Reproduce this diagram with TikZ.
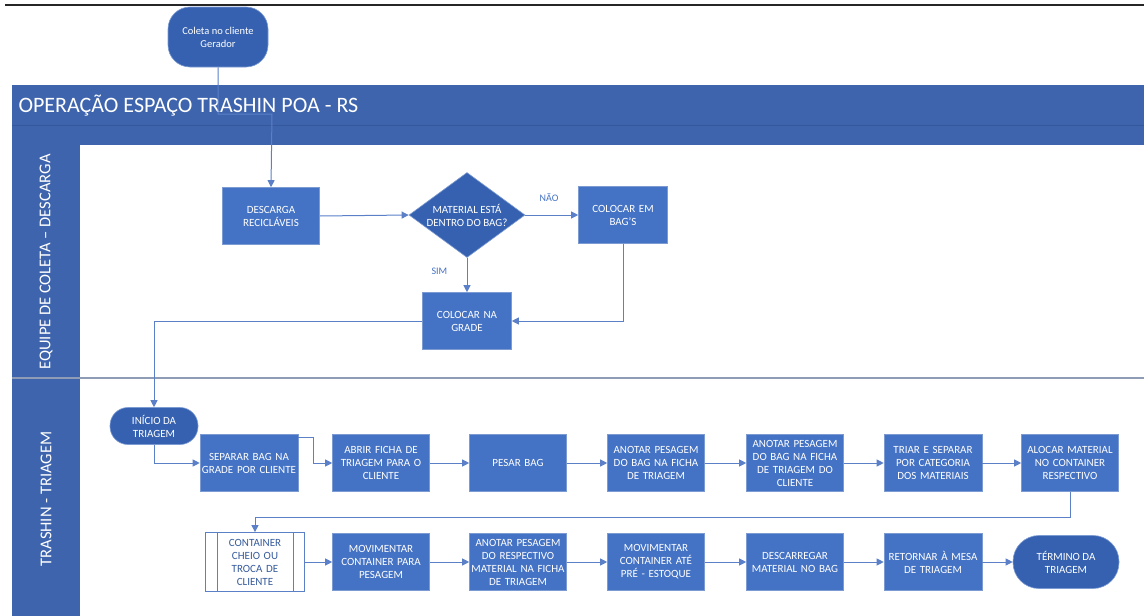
\documentclass[tikz,border=0pt]{standalone}
\usepackage{fontspec}
\setmainfont{Carlito}
\usetikzlibrary{shapes.geometric,arrows.meta}
\definecolor{boxblue}{HTML}{4472C4}
\definecolor{bandblue}{HTML}{3E64AD}
\definecolor{darkblue}{HTML}{3561B0}
\definecolor{edgeblue}{HTML}{7D9BD3}
\definecolor{lineblue}{HTML}{5B80C8}
\definecolor{sepgray}{HTML}{8E9CB5}
\definecolor{bandline}{HTML}{35589C}
\begin{document}
\begin{tikzpicture}[x=1pt,y=-1pt,
  box/.style={rectangle, fill=boxblue, draw=edgeblue, line width=0.6pt, text=white,
    font=\fontsize{11}{13}\selectfont, align=center, minimum width=97pt,
    minimum height=57pt, text width=96pt, inner sep=0pt},
  termnode/.style={rectangle, fill=darkblue, draw=edgeblue, line width=0.6pt, text=white,
    font=\fontsize{11}{13}\selectfont, align=center, inner sep=0pt},
  predef/.style={rectangle, fill=white, draw=lineblue, line width=0.8pt, text=boxblue!80!black,
    font=\fontsize{11}{13}\selectfont, align=center, minimum width=99pt,
    minimum height=59pt, text width=74pt, inner sep=0pt},
  conn/.style={draw=lineblue, line width=1pt, -{Triangle[length=7pt,width=7pt]}},
  lbl/.style={text=boxblue, font=\fontsize{10}{12}\selectfont},
  lanetitle/.style={rotate=90, text=white, font=\fontsize{16.5}{19}\selectfont}]
\useasboundingbox (0,0) rectangle (1144,616);
\fill[white] (0,0) rectangle (1144,616);
% top rule
\draw[line width=2.5pt, black!85] (5,5) -- (1144,5);
% pool header band and lane headers
\fill[bandblue] (12,85) rectangle (1144,145);
\draw[bandline, line width=0.8pt] (12,125) -- (1144,125);
\fill[bandblue] (12,145) rectangle (80,616);
\draw[sepgray, line width=1.2pt] (12,378) -- (1144,378);
\node[anchor=west, text=white, font=\fontsize{22}{26}\selectfont] (title) at (15,106) {OPERAÇÃO ESPAÇO TRASHIN POA - RS};
\node[lanetitle] (lane1) at (46,262) {EQUIPE DE COLETA – DESCARGA};
\node[lanetitle] (lane2) at (46,499) {TRASHIN - TRIAGEM};

% start
\node[termnode, minimum width=100pt, minimum height=60pt, rounded corners=22pt,
  font=\fontsize{10.5}{13}\selectfont] (start) at (218,37) {Coleta no cliente\\Gerador};

% lane 1
\node[box] (desc) at (271,216) {DESCARGA\\RECICLÁVEIS};
\node[diamond, fill=darkblue, draw=edgeblue, line width=0.6pt, minimum width=116pt,
  minimum height=85pt, inner sep=0pt,
  label={[text=white, font=\fontsize{11}{13}\selectfont, align=center]center:MATERIAL ESTÁ\\DENTRO DO BAG?}] (dec) at (467,215) {};
\node[box, minimum width=89pt, text width=88pt] (bags) at (623,215) {COLOCAR EM\\BAG'S};
\node[box, minimum width=89pt, text width=88pt] (grade) at (467,321) {COLOCAR NA\\GRADE};

% lane 2 row 1
\node[termnode, minimum width=88pt, minimum height=37pt, rounded corners=18pt] (ini) at (154,426) {INÍCIO DA\\TRIAGEM};
\node[box, minimum width=98pt] (sep) at (249,463) {SEPARAR BAG NA\\GRADE POR CLIENTE};
\node[box] (abrir) at (381,463) {ABRIR FICHA DE\\TRIAGEM PARA O\\CLIENTE};
\node[box] (pesar) at (518,463) {PESAR BAG};
\node[box] (anot1) at (656,463) {ANOTAR PESAGEM\\DO BAG NA FICHA\\DE TRIAGEM};
\node[box] (anot2) at (795,463) {ANOTAR PESAGEM\\DO BAG NA FICHA\\DE TRIAGEM DO\\CLIENTE};
\node[box, minimum width=98pt] (triar) at (933,463) {TRIAR E SEPARAR\\POR CATEGORIA\\DOS MATERIAIS};
\node[box] (aloc) at (1070,463) {ALOCAR MATERIAL\\NO CONTAINER\\RESPECTIVO};

% lane 2 row 2
\node[predef] (cont) at (255,562) {CONTAINER\\CHEIO OU\\TROCA DE\\CLIENTE};
\draw[lineblue, line width=0.8pt] ([xshift=12pt]cont.north west) -- ([xshift=12pt]cont.south west);
\draw[lineblue, line width=0.8pt] ([xshift=-12pt]cont.north east) -- ([xshift=-12pt]cont.south east);
\node[box] (mov1) at (381,562) {MOVIMENTAR\\CONTAINER PARA\\PESAGEM};
\node[box] (anot3) at (518,562) {ANOTAR PESAGEM\\DO RESPECTIVO\\MATERIAL NA FICHA\\DE TRIAGEM};
\node[box] (mov2) at (656,562) {MOVIMENTAR\\CONTAINER ATÉ\\PRÉ - ESTOQUE};
\node[box] (descar) at (795,562) {DESCARREGAR\\MATERIAL NO BAG};
\node[box, minimum width=98pt] (ret) at (933,562) {RETORNAR À MESA\\DE TRIAGEM};
\node[termnode, minimum width=106pt, minimum height=53pt, rounded corners=26pt] (fim) at (1066,562) {TÉRMINO DA\\TRIAGEM};

% connectors
\draw[conn] (start.south) |- (272,114) -- (desc.north);
\draw[conn] (desc.east) -- (dec.west);
\draw[conn] (dec.east) -- node[lbl, above=10pt, pos=0.45] (nao) {NÃO} (bags.west);
\draw[conn] (dec.south) -- node[lbl, left=16pt, pos=0.4] (sim) {SIM} (grade.north);
\draw[conn] (bags.south) |- (grade.east);
\draw[conn] (grade.west) -| (ini.north);
\draw[conn] (ini.south) |- (sep.west);
\draw[conn] ([yshift=-3pt]sep.north east) -| (313,463) -- (abrir.west);
\draw[conn] (abrir) -- (pesar);
\draw[conn] (pesar) -- (anot1);
\draw[conn] (anot1) -- (anot2);
\draw[conn] (anot2) -- (triar);
\draw[conn] (triar) -- (aloc);
\draw[conn] (aloc.south) |- (255,517) -- (cont.north);
\draw[conn] (cont) -- (mov1);
\draw[conn] (mov1) -- (anot3);
\draw[conn] (anot3) -- (mov2);
\draw[conn] (mov2) -- (descar);
\draw[conn] (descar) -- (ret);
\draw[conn] (ret) -- (fim);
\end{tikzpicture}
\end{document}
